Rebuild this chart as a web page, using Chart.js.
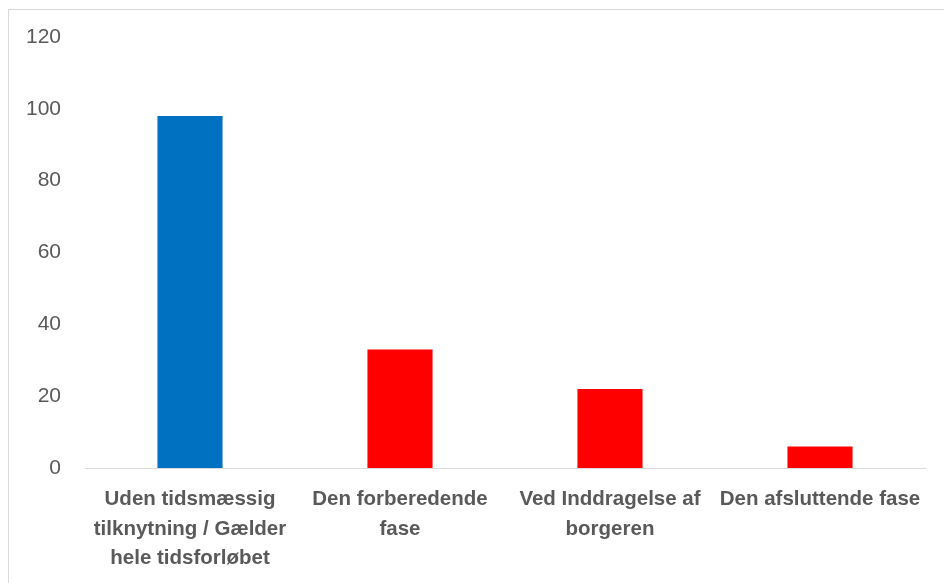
<!DOCTYPE html>
<html>
<head>
<meta charset="utf-8">
<script src="https://cdn.jsdelivr.net/npm/chart.js@4/dist/chart.umd.min.js"></script>
<style>
html,body{margin:0;padding:0;background:#fff;}
#ramme{position:absolute;left:8px;top:9px;width:940px;height:600px;border:1px solid #d9d9d9;box-sizing:border-box;}
#wrap{position:absolute;left:0;top:0;width:944px;height:583px;}
</style>
</head>
<body>
<div id="ramme"></div>
<div id="wrap"><canvas id="graf"></canvas></div>
<script>
//data
const kategorier=[
    ['Uden tidsmæssig','tilknytning / Gælder','hele tidsforløbet'],
    ['Den forberedende','fase'],
    ['Ved Inddragelse af','borgeren'],
    ['Den afsluttende fase']
];
const vaerdier=[98,33,22,6];
const farver=['#0070C0','#FF0000','#FF0000','#FF0000'];
const yMin=0,yMax=120,yTrin=20;

const tekstFarve='#595959';

new Chart(document.getElementById('graf'),{
    type:'bar',
    data:{
        labels:kategorier,
        datasets:[{
            data:vaerdier,
            backgroundColor:farver,
            categoryPercentage:1,
            barPercentage:0.31
        }]
    },
    options:{
        responsive:true,
        maintainAspectRatio:false,
        animation:false,
        layout:{padding:{left:0,right:19,top:37,bottom:0}},
        plugins:{legend:{display:false},tooltip:{enabled:false}},
        scales:{
            x:{
                grid:{display:false},
                border:{display:true,color:'#d9d9d9',width:1},
                ticks:{
                    color:tekstFarve,
                    font:{family:'Liberation Sans',size:20.5,weight:'bold',lineHeight:1.46},
                    maxRotation:0,minRotation:0,autoSkip:false,padding:8
                },
                afterFit:function(s){s.height=115;}
            },
            y:{
                min:yMin,max:yMax,
                grid:{display:false},
                border:{display:false},
                ticks:{
                    stepSize:yTrin,
                    color:tekstFarve,
                    font:{family:'Liberation Sans',size:21},
                    padding:16
                },
                afterFit:function(s){s.width=85;}
            }
        }
    }
});
</script>
</body>
</html>
